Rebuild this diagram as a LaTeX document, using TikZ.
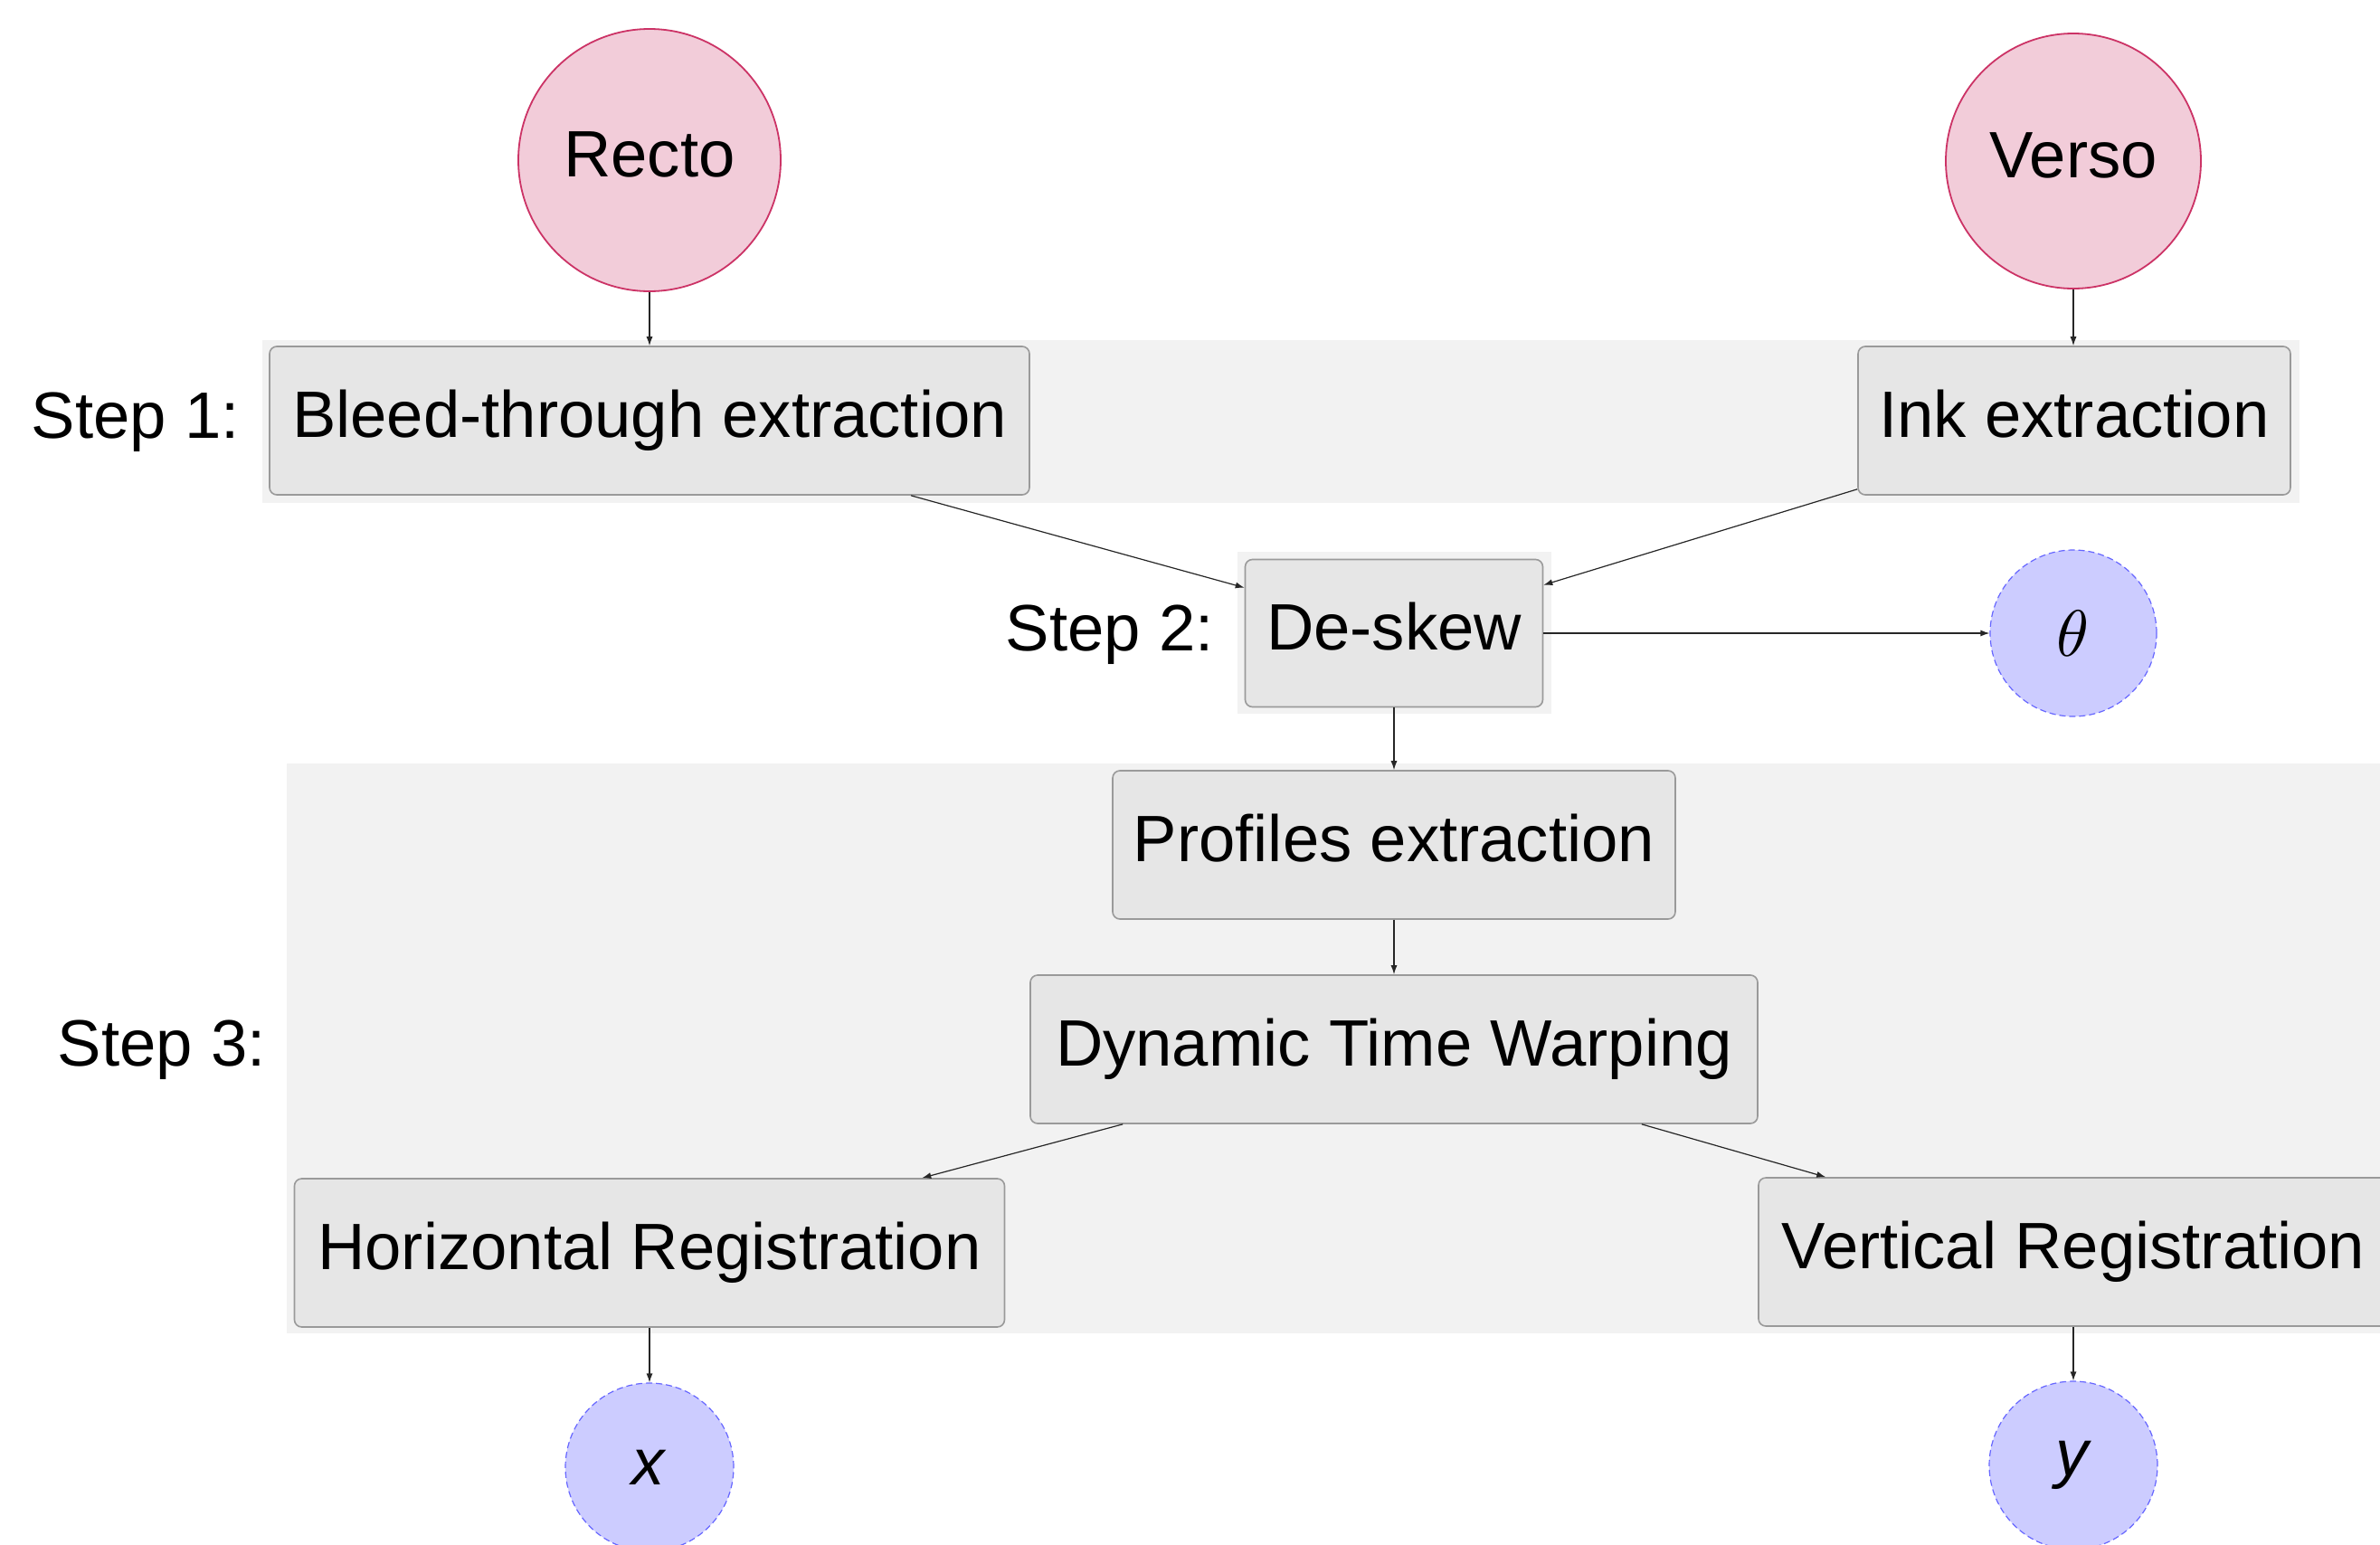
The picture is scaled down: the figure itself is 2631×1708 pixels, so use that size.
\documentclass[tikz,border=0pt]{standalone}
\usepackage{fontspec}
\setmainfont{Liberation Sans}
\usetikzlibrary{arrows.meta,calc}
\definecolor{bandgray}{HTML}{F2F2F2}
\definecolor{boxgray}{HTML}{E6E6E6}
\definecolor{boxline}{HTML}{9A9A9A}
\definecolor{pinkfill}{HTML}{F2CCD9}
\definecolor{pinkline}{HTML}{CC3366}
\definecolor{bluefill}{HTML}{CCCCFF}
\definecolor{blueline}{HTML}{6666FF}
\begin{document}
\begin{tikzpicture}[x=0.5pt,y=-0.5pt,
  every node/.style={font=\fontsize{36.25}{43.5}\selectfont},
  procbox/.style={draw=boxline, fill=boxgray, line width=0.8pt, rounded corners=4pt,
    minimum height=82pt, inner sep=0pt, text height=26.5pt, text depth=7.6pt},
  srccirc/.style={circle, draw=pinkline, fill=pinkfill, line width=0.9pt, inner sep=0pt,
    text height=26.5pt, text depth=7.6pt},
  outcirc/.style={circle, draw=blueline, fill=bluefill, line width=0.6pt,
    dash pattern=on 3.5pt off 2pt, inner sep=0pt, minimum size=93pt},
  band/.style={fill=bandgray},
  steplabel/.style={anchor=east, inner sep=0pt},
  arr/.style={draw=black!85, line width=0.6pt, -{Latex[length=5pt,width=3.5pt]}}
]
\clip (0,0) rectangle (2631,1708);
\fill[white] (0,0) rectangle (2631,1708);
% bands
\fill[band] (290,376) rectangle (2542,556);
\fill[band] (1368,610) rectangle (1715,789);
\fill[band] (317,844) rectangle (2660,1474);
% sources
\node[srccirc, minimum size=145pt] (recto) at (718,177) {Recto};
\node[srccirc, minimum size=141pt] (verso) at (2292,178) {Verso};
% step 1
\node[procbox, minimum width=420pt] (bleed) at (718,465) {Bleed-through extraction};
\node[procbox, minimum width=239pt] (ink) at (2293,465) {Ink extraction};
\node[steplabel] (s1) at (265,467) {Step 1:};
% step 2
\node[procbox, minimum width=164.5pt, minimum height=81.5pt] (deskew) at (1541,700) {De-skew};
\node[steplabel] (s2) at (1342,702) {Step 2:};
\node[outcirc, minimum size=92pt] (theta) at (2292,700) {{\fontsize{10}{12}\selectfont\scalebox{3.625}{$\theta$}}};
% step 3
\node[procbox, minimum width=311pt] (prof) at (1541,934) {Profiles extraction};
\node[procbox, minimum width=402pt] (dtw) at (1541,1160) {Dynamic Time Warping};
\node[procbox, minimum width=392.5pt] (hr) at (718,1385) {Horizontal Registration};
\node[procbox, minimum width=348pt] (vr) at (2292,1384) {Vertical Registration};
\node[steplabel] (s3) at (294,1161) {Step 3:};
% outputs
\node[outcirc] (xo) at (718,1622) {\textit{x}};
\node[outcirc] (yo) at (2292,1620) {\textit{y}};
% connectors
\draw[arr] (recto.south) -- (recto.south |- bleed.north);
\draw[arr] (verso.south) -- (verso.south |- ink.north);
\draw[arr] ($(bleed.south)+(289,0)$) -- ($(deskew.north west)+(0,32)$);
\draw[arr] ($(ink.south west)+(0,-7)$) -- ($(deskew.north east)+(0,29)$);
\draw[arr] (deskew.east) -- (theta.west);
\draw[arr] (deskew.south) -- (prof.north);
\draw[arr] (prof.south) -- (dtw.north);
\draw[arr] ($(dtw.south west)+(103,0)$) -- ($(hr.north east)+(-92,0)$);
\draw[arr] ($(dtw.south east)+(-129,0)$) -- ($(vr.north west)+(75,0)$);
\draw[arr] (hr.south) -- (xo.north);
\draw[arr] (vr.south) -- (yo.north);
\end{tikzpicture}
\end{document}
